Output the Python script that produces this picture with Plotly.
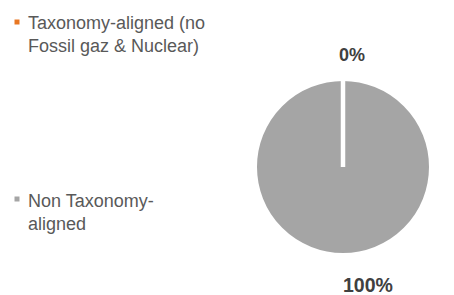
import plotly.graph_objects as go

labels = ["Taxonomy-aligned (no<br>Fossil gaz & Nuclear)", "Non Taxonomy-<br>aligned"]
values = [0, 100]
colors = ["#E87722", "#A5A5A5"]
pct_labels = ["0%", "100%"]

W, H = 454, 295
cx, cy, r = 343, 167, 88

fig = go.Figure()
fig.add_trace(go.Pie(
    labels=labels,
    values=values,
    sort=False,
    direction="clockwise",
    rotation=0,
    textinfo="none",
    hoverinfo="label+percent",
    marker=dict(colors=colors, line=dict(color="white", width=4)),
    domain=dict(x=[(cx - r) / W, (cx + r) / W], y=[(H - cy - r) / H, (H - cy + r) / H]),
    showlegend=False,
))

# slice boundary of the 0% slice (white separator from centre to 12 o'clock)
fig.add_shape(type="line", xref="paper", yref="paper",
              x0=cx / W, x1=cx / W, y0=1 - cy / H, y1=1 - (cy - r - 2) / H,
              line=dict(color="white", width=4.5))

font_family = "Liberation Sans, Arial, sans-serif"

# legend (manual placement)
legend_pos = [(26, 11), (26, 189)]
marker_pos = [(17, 22), (17, 199)]
for lab, col, (tx, ty), (mx, my) in zip(labels, colors, legend_pos, marker_pos):
    fig.add_annotation(x=tx / W, y=1 - ty / H, xref="paper", yref="paper",
                       xanchor="left", yanchor="top", align="left", showarrow=False,
                       text=lab, font=dict(family=font_family, size=18, color="#595959"))
    fig.add_shape(type="rect", xref="paper", yref="paper",
                  x0=(mx - 2.5) / W, x1=(mx + 2.5) / W, y0=1 - (my + 2.5) / H, y1=1 - (my - 2.5) / H,
                  fillcolor=col, line=dict(width=0))

# percentage labels
pct_pos = [(352, 55, 18), (368, 285, 19.5)]
for t, (px, py, fs) in zip(pct_labels, pct_pos):
    fig.add_annotation(x=px / W, y=1 - py / H, xref="paper", yref="paper",
                       xanchor="center", yanchor="middle", showarrow=False,
                       text="<b>" + t + "</b>", font=dict(family=font_family, size=fs, color="#404040"))

fig.update_layout(width=W, height=H, margin=dict(l=0, r=0, t=0, b=0),
                  paper_bgcolor="white", plot_bgcolor="white")
fig.write_html("out.html", config={"displayModeBar": False},
               post_script="document.body.style.margin='0';document.body.style.overflow='hidden';")
